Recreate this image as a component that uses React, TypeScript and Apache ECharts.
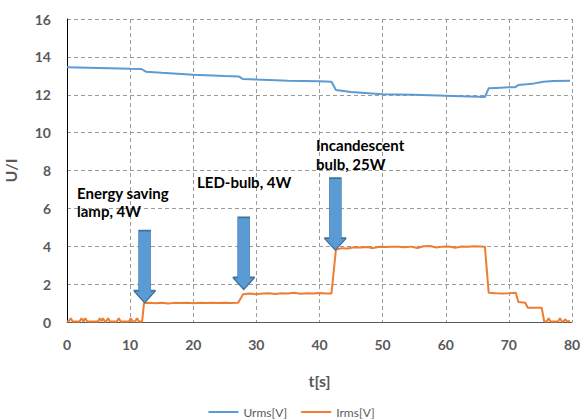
import React, { useEffect, useRef } from "react";
import * as echarts from "echarts";

const xTicks = { min: 0, max: 80, interval: 10 };
const yTicks = { min: 0, max: 16, interval: 2 };

const urmsTime = [0, 5, 10, 11.8, 12.5, 15, 20, 25, 27.2, 27.9, 30, 35, 40, 41.9, 42.6, 45, 50, 55, 60, 65, 66.2, 66.8, 68, 70, 71, 71.5, 72.8, 74, 75.5, 77, 79.7];
const urmsValues = [13.45, 13.41, 13.37, 13.36, 13.22, 13.16, 13.05, 12.99, 12.97, 12.83, 12.8, 12.74, 12.71, 12.69, 12.25, 12.14, 12.03, 12.0, 11.95, 11.9, 11.88, 12.34, 12.36, 12.39, 12.4, 12.51, 12.55, 12.6, 12.69, 12.72, 12.74];

const irmsTime = [0, 0.3, 0.6, 0.9, 2.0, 2.3, 2.6, 2.9, 3.2, 4.9, 5.2, 5.45, 5.7, 6.0, 6.2, 6.5, 6.8, 7.9, 8.2, 8.5, 9.8, 10.1, 10.4, 10.8, 11.1, 11.4, 11.9, 12.2, 13, 14, 15, 16, 17, 18, 19, 20, 21, 22, 23, 24, 25, 26, 27.1, 27.9, 29, 30, 31, 32, 33, 34, 35, 36, 37, 38, 39, 40, 41, 41.9, 42.6, 43.5, 44.5, 45.5, 46.5, 47.5, 48.5, 49.5, 50.5, 51.5, 52.5, 53.5, 54.5, 55.5, 56.5, 57.5, 58.5, 59.5, 60.5, 61.5, 62.5, 63.5, 64.5, 65.5, 66.2, 66.8, 68, 69, 70, 71.1, 71.5, 72.6, 73, 75.2, 75.6, 76, 76.3, 76.6, 77.8, 78.1, 78.4, 78.7, 78.9, 79.2, 79.7];
const irmsValues = [0.03, 0.04, 0.2, 0.03, 0.03, 0.2, 0.03, 0.2, 0.03, 0.03, 0.2, 0.04, 0.2, 0.03, 0.03, 0.2, 0.03, 0.03, 0.2, 0.03, 0.03, 0.2, 0.03, 0.03, 0.2, 0.03, 0.03, 1.0, 1.02, 0.99, 1.02, 0.98, 1.01, 1.0, 1.02, 0.99, 1.01, 1.0, 1.02, 1.0, 1.01, 1.0, 1.01, 1.47, 1.5, 1.46, 1.5, 1.52, 1.48, 1.52, 1.5, 1.54, 1.49, 1.52, 1.5, 1.53, 1.5, 1.51, 3.82, 3.9, 3.88, 3.95, 3.93, 3.96, 3.9, 3.97, 3.96, 3.98, 3.97, 3.95, 3.98, 3.91, 4.0, 4.01, 3.93, 3.98, 3.99, 3.92, 3.99, 3.98, 4.0, 3.99, 3.98, 1.55, 1.52, 1.5, 1.52, 1.55, 1.05, 1.02, 0.75, 0.75, 0.02, 0.03, 0.2, 0.03, 0.03, 0.2, 0.03, 0.03, 0.15, 0.03, 0.05];

const seriesNames = ["Urms[V]", "Irms[V]"];
const arrowTips = [
  [12.3, 1.02],
  [28.0, 1.72],
  [42.5, 3.8],
];
const annotations = [
  { text: "Energy saving\nlamp, 4W", x: 77, y: 184, lh: 18 },
  { text: "LED-bulb, 4W", x: 197, y: 173, lh: 18 },
  { text: "Incandescent\nbulb, 25W", x: 316, y: 135, lh: 19 },
];

const ARROW = "path://M5,0 L17,0 L17,60 L22,60 L11,72 L0,60 L5,60 Z";

export default function App() {
  const ref = useRef<HTMLDivElement>(null);
  useEffect(() => {
    document.body.style.margin = "0";
    const chart = echarts.init(ref.current!, null, { renderer: "svg" });
    const font = "Lato, 'Open Sans', sans-serif";
    chart.setOption({
      animation: false,
      textStyle: { fontFamily: font },
      grid: { left: 67, right: 11, top: 19, bottom: 97, containLabel: false, outerBoundsMode: "none" },
      legend: {
        data: seriesNames,
        top: 406,
        left: "center",
        itemWidth: 30,
        itemHeight: 10,
        itemGap: 14,
        padding: 0,
        icon: "path://M0,4 L30,4 L30,6 L0,6 Z",
        textStyle: { color: "#595959", fontSize: 12, fontFamily: font },
      },
      xAxis: {
        type: "value",
        ...xTicks,
        name: "t[s]",
        nameLocation: "middle",
        nameGap: 50,
        nameTextStyle: { color: "#595959", fontSize: 16, fontWeight: "bold", fontFamily: font },
        axisLine: { show: true, lineStyle: { color: "#595959", width: 1 } },
        axisTick: { show: false },
        axisLabel: { color: "#595959", fontSize: 14, fontWeight: "bold", margin: 15, fontFamily: font },
        splitLine: { show: true, lineStyle: { color: "#9a9a9a", type: [4, 3], width: 1 } },
      },
      yAxis: {
        type: "value",
        ...yTicks,
        name: "U/I",
        nameLocation: "middle",
        nameGap: 49,
        nameTextStyle: { color: "#595959", fontSize: 16, fontWeight: "bold", fontFamily: font },
        axisLine: { show: true, lineStyle: { color: "#000000", width: 1 } },
        axisTick: { show: false },
        axisLabel: { color: "#595959", fontSize: 14, fontWeight: "bold", margin: 16, fontFamily: font },
        splitLine: { show: true, lineStyle: { color: "#9a9a9a", type: [4, 3], width: 1 } },
      },
      series: [
        {
          name: seriesNames[0],
          type: "line",
          showSymbol: false,
          symbol: "none",
          lineStyle: { color: "#5b9bd5", width: 2 },
          itemStyle: { color: "#5b9bd5" },
          data: urmsTime.map((t, i) => [t, urmsValues[i]]),
          z: 3,
        },
        {
          name: seriesNames[1],
          type: "line",
          showSymbol: false,
          symbol: "none",
          lineStyle: { color: "#ed7d31", width: 2 },
          itemStyle: { color: "#ed7d31" },
          data: irmsTime.map((t, i) => [t, irmsValues[i]]),
          z: 3,
          markPoint: {
            symbol: ARROW,
            symbolSize: [22, 72],
            symbolOffset: [0, -36],
            silent: true,
            label: { show: false },
            itemStyle: { color: "#5b9bd5", borderColor: "#41719c", borderWidth: 1 },
            data: arrowTips.map((c) => ({ coord: c })),
            z: 5,
          },
        },
      ],
      graphic: annotations.map((a) => ({
        type: "text",
        left: a.x,
        top: a.y,
        z: 10,
        style: {
          text: a.text,
          fill: "#000000",
          font: `bold 15px ${font}`,
          lineHeight: a.lh,
        },
      })),
    });
    return () => chart.dispose();
  }, []);
  return <div ref={ref} style={{ width: 583, height: 419 }} />;
}
